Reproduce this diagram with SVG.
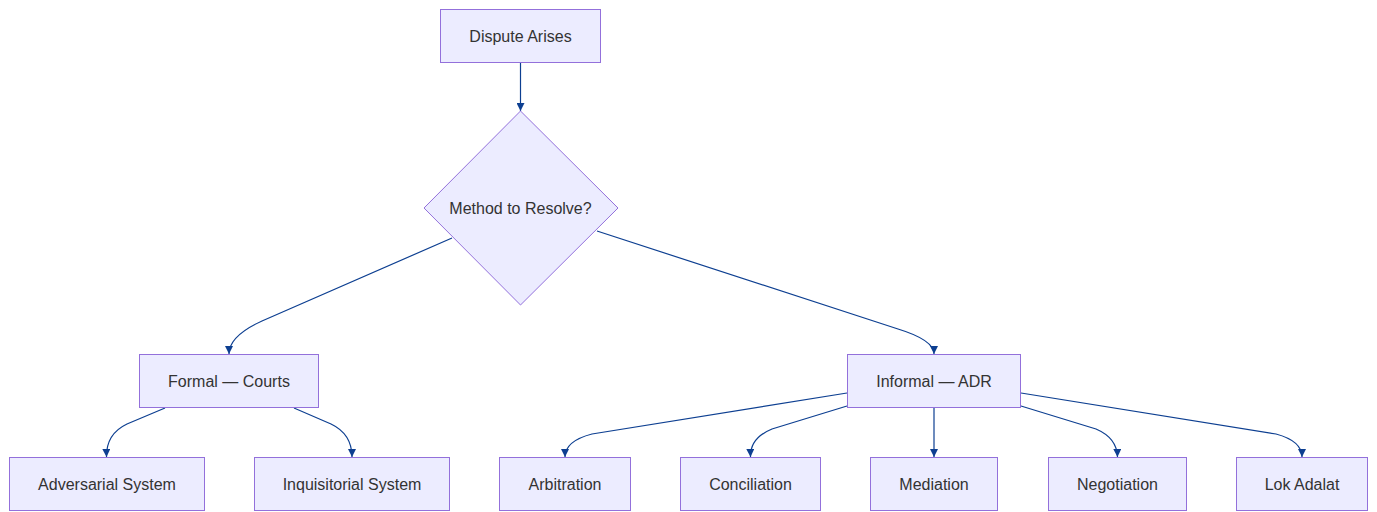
<svg xmlns="http://www.w3.org/2000/svg" width="1377" height="512" viewBox="0 0 1377 512">
<defs>
<style>
.n{fill:#ECECFF;stroke:#9370DB;stroke-width:1}
.t{font-family:"Liberation Sans",Arial,sans-serif;font-size:16px;fill:#333;text-anchor:middle;dominant-baseline:central}
.e{fill:none;stroke:#0d3f91;stroke-width:1.2}
</style>
<marker id="arr" viewBox="0 0 10 10" refX="10" refY="5" markerWidth="8" markerHeight="8" markerUnits="userSpaceOnUse" orient="auto">
<path d="M0,0 L10,5 L0,10 z" fill="#0d3f91"/>
</marker>
</defs>
<rect width="1377" height="512" fill="#fff"/>
<g id="edges">
<path class="e" d="M520.5,62 L520.5,111" marker-end="url(#arr)"/>
<path class="e" d="M452,238 L262,321 Q229,336 229,354" marker-end="url(#arr)"/>
<path class="e" d="M597,231 L898,329 Q934,340 934,354" marker-end="url(#arr)"/>
<path class="e" d="M165,408 L127,424 Q106,434 106.5,457" marker-end="url(#arr)"/>
<path class="e" d="M294,408 L331,424 Q352,434 352,457" marker-end="url(#arr)"/>
<path class="e" d="M847,393 L592,434 Q565,441 565,457" marker-end="url(#arr)"/>
<path class="e" d="M847,406 L772,429 Q750,438 750.5,457" marker-end="url(#arr)"/>
<path class="e" d="M934,408 L934,457" marker-end="url(#arr)"/>
<path class="e" d="M1021,406 L1096,429 Q1117,438 1117.5,457" marker-end="url(#arr)"/>
<path class="e" d="M1021,393 L1276,434 Q1302,441 1302,457" marker-end="url(#arr)"/>
</g>
<g id="dispute"><rect class="n" x="440.5" y="9.5" width="160" height="53"/><text class="t" x="520.5" y="36">Dispute Arises</text></g>
<g id="method"><polygon class="n" points="520.5,111 618,208 520.5,305 424,208"/><text class="t" x="520.5" y="208">Method to Resolve?</text></g>
<g id="formal"><rect class="n" x="139.5" y="354.5" width="179" height="53"/><text class="t" x="229" y="381">Formal — Courts</text></g>
<g id="informal"><rect class="n" x="847.5" y="354.5" width="173" height="53"/><text class="t" x="934" y="381">Informal — ADR</text></g>
<g id="adversarial"><rect class="n" x="9.5" y="457.5" width="195" height="53"/><text class="t" x="107" y="484">Adversarial System</text></g>
<g id="inquisitorial"><rect class="n" x="254.5" y="457.5" width="195" height="53"/><text class="t" x="352" y="484">Inquisitorial System</text></g>
<g id="arbitration"><rect class="n" x="499.5" y="457.5" width="131" height="53"/><text class="t" x="565" y="484">Arbitration</text></g>
<g id="conciliation"><rect class="n" x="680.5" y="457.5" width="140" height="53"/><text class="t" x="750.5" y="484">Conciliation</text></g>
<g id="mediation"><rect class="n" x="870.5" y="457.5" width="127" height="53"/><text class="t" x="934" y="484">Mediation</text></g>
<g id="negotiation"><rect class="n" x="1048.5" y="457.5" width="138" height="53"/><text class="t" x="1117.5" y="484">Negotiation</text></g>
<g id="lokadalat"><rect class="n" x="1236.5" y="457.5" width="131" height="53"/><text class="t" x="1302" y="484">Lok Adalat</text></g>
</svg>
